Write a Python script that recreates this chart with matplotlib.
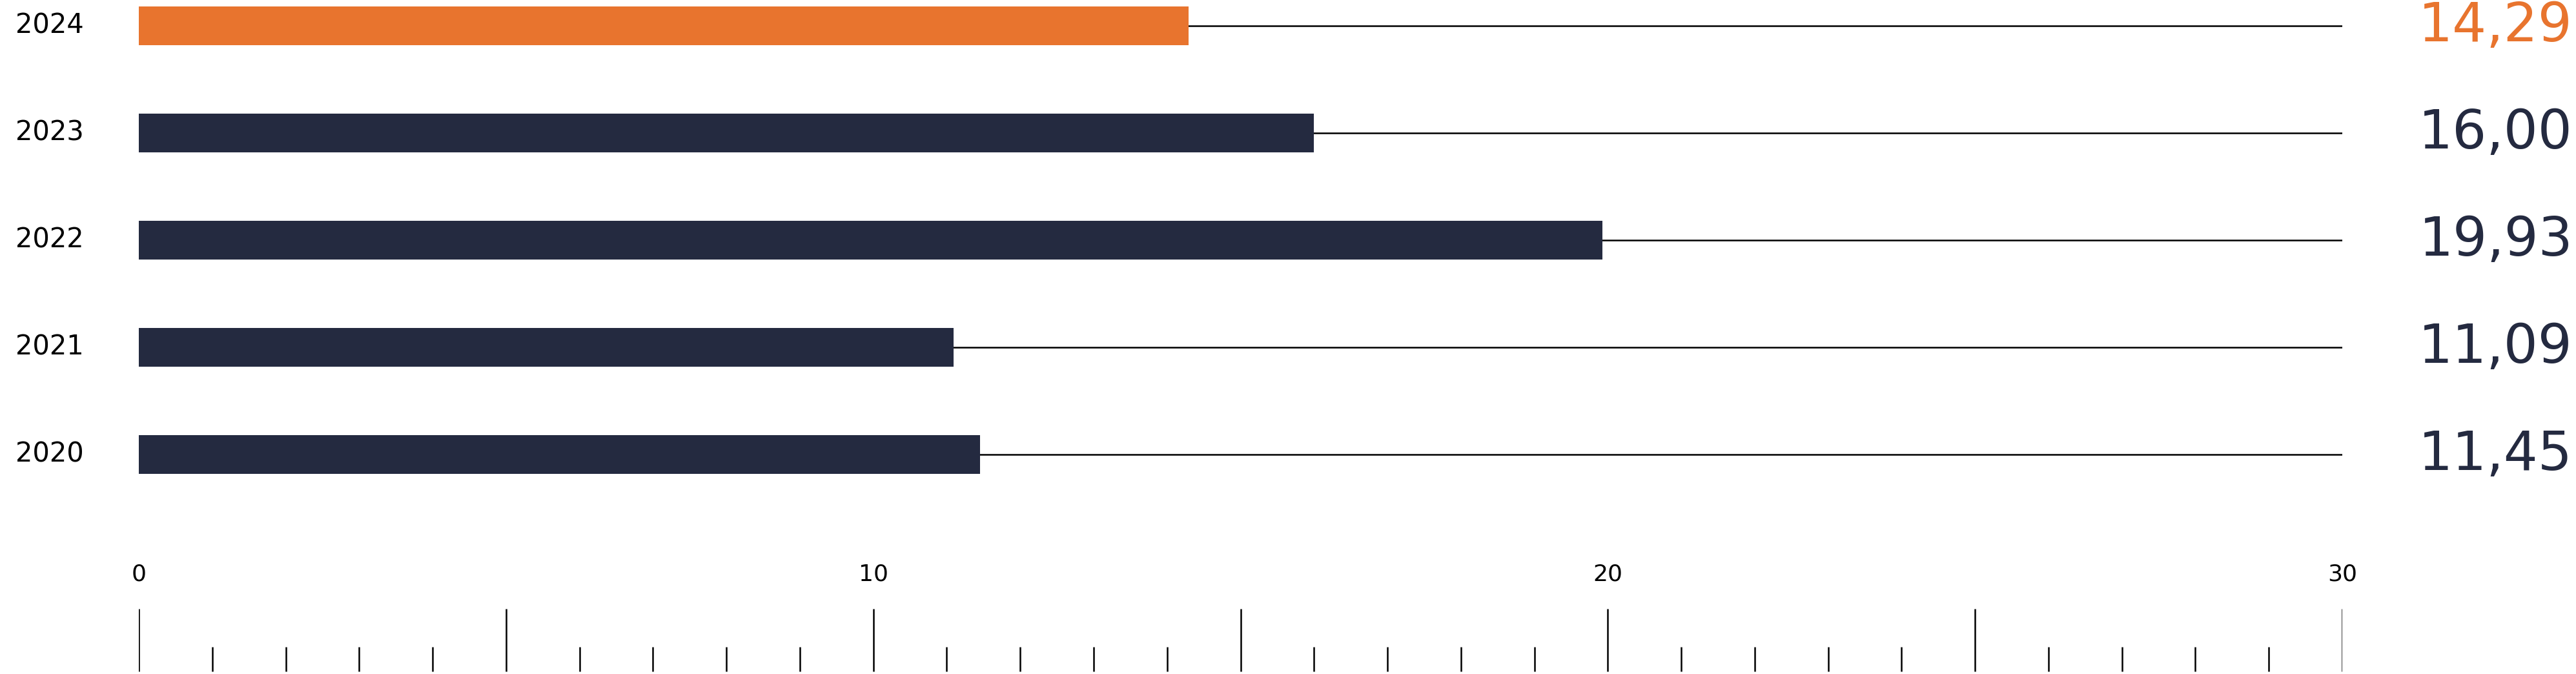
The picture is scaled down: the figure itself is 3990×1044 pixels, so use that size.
import matplotlib
matplotlib.use("Agg")
import matplotlib.pyplot as plt

years = ["2024", "2023", "2022", "2021", "2020"]
values = [14.29, 16.00, 19.93, 11.09, 11.45]
labels = ["14,29", "16,00", "19,93", "11,09", "11,45"]
colors = ["#e8742e", "#242a40", "#242a40", "#242a40", "#242a40"]
major_ticks = [0, 10, 20, 30]
W, H = 3990, 1044
fig = plt.figure(figsize=(W/100, H/100), dpi=100)
x0, x1 = 215, 3628
ax = fig.add_axes([x0/W, 0, (x1-x0)/W, 1])
ax.set_xlim(0, 30)
ax.set_ylim(H, 0)
ax.axis("off")
ys = [40 + 166*i for i in range(len(years))]
for y, v, c, yr, lab in zip(ys, values, colors, years, labels):
    ax.hlines(y, 0, 30, color="black", lw=1.8, zorder=1)
    ax.barh(y, v, height=60, color=c, zorder=2)
    ax.text(-0.08/0.03*0.03*0 - 0.75, y, yr, ha="right", va="center", fontsize=30, color="black", family="DejaVu Sans")
    ax.text(30 + (3985-x1)/(x1-x0)*30, y, lab, ha="right", va="center", fontsize=60, color=c, family="DejaVu Sans")
for t in range(31):
    top = 943 if t % 5 == 0 else 1002
    ax.vlines(t, top, 1040, color="black", lw=1.8)
for t in major_ticks:
    ax.text(t, 890, str(t), ha="center", va="center", fontsize=26, color="black")
fig.savefig("out.png", dpi=100)
